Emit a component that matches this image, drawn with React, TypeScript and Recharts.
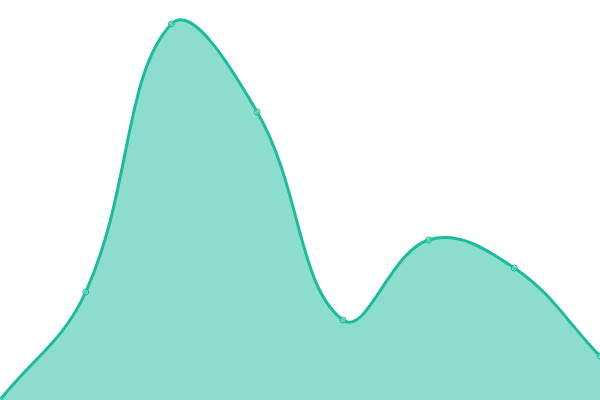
import { AreaChart, Area, XAxis, YAxis } from 'recharts';

const labels = ['A', 'B', 'C', 'D', 'E', 'F', 'G', 'H'];
const values = [0, 27, 94, 72, 20, 40, 33, 11];

const data = labels.map((name, i) => ({ name, value: values[i] }));

const W = 600;
const H = 400;
const TENSION = 0.4;

// cardinal-ish spline (tension 0.4) as a d3 curve factory
function splineCurve(context: any) {
  let pts: number[][] = [];
  let line = NaN;
  const clampX = (v: number) => Math.max(0, Math.min(W, v));
  const clampY = (v: number) => Math.max(0, Math.min(H, v));
  return {
    areaStart() { line = 0; },
    areaEnd() { line = NaN; },
    lineStart() { pts = []; },
    point(x: number, y: number) { pts.push([+x, +y]); },
    lineEnd() {
      const n = pts.length;
      if (n) {
        const cps = pts.map((p, i) => {
          const prev = pts[i - 1] || p;
          const next = pts[i + 1] || p;
          const d01 = Math.hypot(p[0] - prev[0], p[1] - prev[1]);
          const d12 = Math.hypot(next[0] - p[0], next[1] - p[1]);
          let s01 = d01 / (d01 + d12);
          let s12 = d12 / (d01 + d12);
          if (isNaN(s01)) s01 = 0;
          if (isNaN(s12)) s12 = 0;
          const fa = TENSION * s01;
          const fb = TENSION * s12;
          return {
            c1: [clampX(p[0] - fa * (next[0] - prev[0])), clampY(p[1] - fa * (next[1] - prev[1]))],
            c2: [clampX(p[0] + fb * (next[0] - prev[0])), clampY(p[1] + fb * (next[1] - prev[1]))],
          };
        });
        if (line) context.lineTo(pts[0][0], pts[0][1]);
        else context.moveTo(pts[0][0], pts[0][1]);
        for (let i = 1; i < n; i++) {
          const a = cps[i - 1].c2;
          const b = cps[i].c1;
          context.bezierCurveTo(a[0], a[1], b[0], b[1], pts[i][0], pts[i][1]);
        }
      }
      if (line || (line !== 0 && n === 1)) context.closePath();
      line = 1 - line;
    },
  };
}

export default function App() {
  return (
    <div style={{ position: 'fixed', left: 0, top: 0, width: W, height: H, background: '#fff' }}>
      <AreaChart width={W} height={H} data={data} margin={{ top: 0, right: 0, bottom: 0, left: 0 }}>
        <XAxis dataKey="name" hide />
        <YAxis domain={[0, 100]} hide />
        <Area
          type={splineCurve as any}
          dataKey="value"
          stroke="#1abc9c"
          strokeWidth={3}
          fill="#1abc9c"
          fillOpacity={0.5}
          dot={{ r: 3, fill: '#8ce0cf', stroke: '#1abc9c', strokeWidth: 1 }}
          activeDot={false}
          isAnimationActive={false}
        />
      </AreaChart>
    </div>
  );
}
